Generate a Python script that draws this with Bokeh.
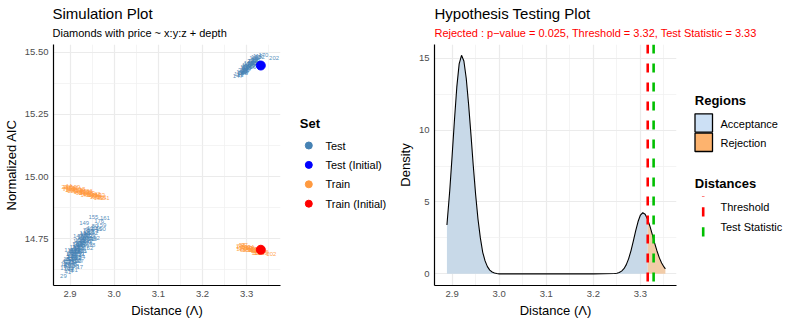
import numpy as np
from bokeh.plotting import figure
from bokeh.models import Range1d, FixedTicker, Span, PrintfTickFormatter
from bokeh.layouts import row, column
from bokeh.embed import file_html
from bokeh.resources import INLINE
from bokeh.core.properties import value

FONT = "Liberation Sans"

# ---------------- data: simulation plot ----------------
test_x = [2.886, 2.890, 2.893, 2.895, 2.898, 2.900, 2.902, 2.904, 2.906, 2.908, 2.910, 2.912,
          2.914, 2.916, 2.918, 2.920, 2.922, 2.924, 2.926, 2.928, 2.930, 2.932, 2.934, 2.936,
          2.938, 2.941, 2.943, 2.946, 2.950, 2.953, 2.957, 2.971, 2.953, 2.979, 2.966, 2.922,
          2.903, 2.885, 2.895, 2.910, 2.927, 2.945, 2.970, 2.918, 2.898, 2.932, 2.950, 2.960,
          2.889, 2.892, 2.896, 2.901, 2.905, 2.909, 2.913, 2.917, 2.921, 2.925, 2.929, 2.933,
          2.937, 2.940, 2.944, 2.948, 2.952, 2.956, 2.960, 2.935, 2.920, 2.907, 2.913, 2.925,
          2.940, 2.905, 2.909, 2.913, 2.917, 2.921, 2.915, 2.911, 2.919, 2.923, 2.927, 2.931,
          2.907, 2.903, 2.899, 2.925, 2.933, 2.939, 2.945, 2.897, 2.912,
          2.900, 2.904, 2.908, 2.912, 2.916, 2.920, 2.924, 2.928, 2.932, 2.936, 2.894, 2.897,
          2.902, 2.906, 2.918, 2.930, 2.942, 2.926, 2.915, 2.909,
          3.280, 3.282, 3.288, 3.290, 3.293, 3.295, 3.297, 3.299, 3.301, 3.303, 3.305, 3.307,
          3.309, 3.311, 3.313, 3.315, 3.317, 3.319, 3.321, 3.323, 3.325, 3.330, 3.338, 3.362,
          3.292, 3.298, 3.304, 3.310, 3.316, 3.300, 3.312, 3.320, 3.286, 3.296, 3.302, 3.308,
          3.314, 3.318, 3.290, 3.294, 3.300, 3.306, 3.312, 3.318, 3.304, 3.298, 3.288]
test_y = [14.648, 14.662, 14.641, 14.676, 14.655, 14.690, 14.630, 14.668, 14.702, 14.682, 14.716, 14.650,
          14.696, 14.730, 14.672, 14.710, 14.744, 14.690, 14.726, 14.756, 14.702, 14.740, 14.770, 14.718,
          14.752, 14.782, 14.732, 14.766, 14.795, 14.748, 14.780, 14.807, 14.837, 14.833, 14.820, 14.636,
          14.622, 14.602, 14.615, 14.626, 14.676, 14.712, 14.790, 14.760, 14.705, 14.812, 14.725, 14.755,
          14.632, 14.650, 14.668, 14.680, 14.695, 14.700, 14.718, 14.725, 14.735, 14.745, 14.760, 14.772,
          14.786, 14.760, 14.790, 14.750, 14.775, 14.800, 14.790, 14.700, 14.660, 14.645, 14.665, 14.700,
          14.740, 14.672, 14.690, 14.705, 14.696, 14.718, 14.682, 14.676, 14.712, 14.724, 14.730, 14.722,
          14.660, 14.656, 14.645, 14.712, 14.748, 14.764, 14.776, 14.630, 14.690,
          14.662, 14.678, 14.668, 14.700, 14.712, 14.698, 14.735, 14.742, 14.732, 14.758, 14.655, 14.668,
          14.690, 14.705, 14.740, 14.765, 14.748, 14.688, 14.660, 14.640,
          15.404, 15.412, 15.428, 15.420, 15.435, 15.420, 15.442, 15.430, 15.450, 15.438, 15.458, 15.445,
          15.463, 15.452, 15.470, 15.458, 15.476, 15.465, 15.482, 15.470, 15.486, 15.480, 15.487, 15.4775,
          15.415, 15.425, 15.432, 15.440, 15.448, 15.445, 15.460, 15.455, 15.410, 15.432, 15.442, 15.452,
          15.466, 15.458, 15.418, 15.425, 15.436, 15.448, 15.455, 15.472, 15.452, 15.440, 15.422]
test_lab = ["12", "45", "88", "3", "131", "64", "47", "22", "119", "76", "140", "8",
            "97", "181", "33", "150", "126", "59", "170", "102", "15", "93", "144", "67",
            "188", "137", "36", "109", "120", "35", "73", "159", "155", "161", "176", "17",
            "4", "29", "41", "61", "84", "52", "190", "143", "114", "149", "38", "92",
            "130", "24", "157", "50", "82", "193", "28", "106", "171", "55", "117", "186",
            "70", "133", "99", "21", "162", "80", "146", "1", "127", "63", "168", "44",
            "111", "135", "18", "172", "91", "26", "154", "66", "183", "47", "110", "9",
            "139", "75", "198", "31", "121", "57", "165", "104", "86",
            "7", "145", "34", "178", "53", "96", "128", "19", "167", "81", "115", "62",
            "189", "43", "152", "27", "134", "71", "100", "158",
            "147", "118", "35", "42", "10", "83", "124", "56", "192", "25", "108", "141",
            "74", "160", "2", "95", "130", "49", "183", "68", "113", "152", "170", "202",
            "166", "19", "87", "136", "5", "177", "61", "101", "11", "39", "165", "78",
            "125", "15", "187", "48", "117", "6", "151", "89", "172", "30", "199"]

train_x = [2.888, 2.892, 2.895, 2.898, 2.901, 2.904, 2.907, 2.910, 2.913, 2.916, 2.919, 2.922,
           2.925, 2.928, 2.931, 2.934, 2.937, 2.940, 2.943, 2.946, 2.949, 2.952, 2.955, 2.958,
           2.961, 2.964, 2.968, 2.972, 2.978, 2.897, 2.912, 2.927, 2.944, 2.905, 2.920, 2.935,
           2.950, 2.965, 2.890, 2.900, 2.909, 2.918, 2.926, 2.933, 2.941, 2.948, 2.956, 2.962,
           3.284, 3.287, 3.290, 3.293, 3.296, 3.299, 3.302, 3.305, 3.308, 3.311, 3.314, 3.317,
           3.320, 3.323, 3.326, 3.329, 3.333, 3.337, 3.342, 3.356, 3.288, 3.295, 3.301, 3.309,
           3.316, 3.322, 3.330, 3.292, 3.298, 3.306, 3.312, 3.318, 3.326]
train_y = [14.957, 14.952, 14.960, 14.948, 14.955, 14.950, 14.956, 14.945, 14.951, 14.946, 14.940, 14.948,
           14.942, 14.936, 14.943, 14.937, 14.931, 14.939, 14.933, 14.927, 14.934, 14.928, 14.922, 14.929,
           14.924, 14.918, 14.925, 14.919, 14.915, 14.962, 14.957, 14.950, 14.941, 14.942, 14.935, 14.927,
           14.921, 14.914, 14.950, 14.945, 14.952, 14.944, 14.940, 14.934, 14.930, 14.926, 14.920, 14.925,
           14.722, 14.716, 14.724, 14.714, 14.719, 14.710, 14.715, 14.706, 14.712, 14.703, 14.708, 14.700,
           14.705, 14.697, 14.702, 14.694, 14.698, 14.692, 14.695, 14.690, 14.710, 14.726, 14.703, 14.718,
           14.711, 14.692, 14.704, 14.706, 14.716, 14.712, 14.706, 14.702, 14.694]
train_lab = ["23", "71", "105", "14", "186", "57", "132", "90", "6", "117", "163", "39",
             "148", "81", "11", "127", "66", "194", "27", "112", "53", "171", "98", "142",
             "30", "79", "133", "161", "151", "44", "199", "18", "86", "123", "62", "175",
             "9", "139", "77", "134", "2", "179", "48", "100", "156", "34", "122", "60",
             "20", "167", "58", "135", "91", "7", "153", "72", "116", "31", "189", "64",
             "128", "46", "174", "103", "13", "145", "80", "202", "121", "37", "158", "94",
             "26", "110", "182", "69", "142", "40", "169", "85", "134"]

init_x = [3.332, 3.332]
init_y = [15.4465, 14.706]
init_set = ["Test (Initial)", "Train (Initial)"]

set_labels = ["Test", "Test (Initial)", "Train", "Train (Initial)"]
set_colors = ["#4682B4", "#0000FF", "#FF9A40", "#FF0000"]

# ---------------- data: hypothesis testing plot ----------------
dens_x = [2.889, 2.895, 2.900, 2.905, 2.910, 2.915, 2.920, 2.925, 2.930, 2.935, 2.940, 2.945,
          2.950, 2.955, 2.960, 2.965, 2.970, 2.975, 2.980, 2.985, 2.990, 2.995, 3.000, 3.050,
          3.100, 3.150, 3.200, 3.245, 3.250, 3.255, 3.260, 3.265, 3.270, 3.275, 3.280, 3.285,
          3.290, 3.295, 3.300, 3.305, 3.310, 3.315, 3.320, 3.325, 3.330, 3.335, 3.340, 3.345,
          3.350, 3.353]
dens_y = [3.4, 5.8, 8.2, 10.7, 13.0, 14.6, 15.2, 14.8, 13.6, 11.8, 9.7, 7.5,
          5.5, 3.8, 2.5, 1.5, 0.9, 0.5, 0.26, 0.13, 0.06, 0.02, 0.0, 0.0,
          0.0, 0.0, 0.0, 0.02, 0.04, 0.09, 0.19, 0.36, 0.64, 1.06, 1.62, 2.29,
          3.0, 3.64, 4.09, 4.25, 4.14, 3.81, 3.33, 2.76, 2.16, 1.61, 1.13, 0.75,
          0.48, 0.35]
threshold = 3.3155
test_statistic = 3.328
p_value = 0.025

region_labels = ["Acceptance", "Rejection"]
region_plot_colors = ["#C8D9E8", "#F2CCA8"]
region_key_colors = ["#CCE0F5", "#FDB36E"]
distance_labels = ["Threshold", "Test Statistic"]
distance_colors = ["#FF0000", "#00BF00"]

titles = ["Simulation Plot", "Hypothesis Testing Plot"]
subtitles = ["Diamonds with price ~ x:y:z + depth",
             "Rejected : p\u2212value = %.3f, Threshold = %.2f, Test Statistic = %.2f"
             % (p_value, threshold, test_statistic)]
subtitle_colors = ["black", "#FF0000"]

# ---------------- layout sizes ----------------
W = 793
TOP = 44          # title strip height (frames start right below)
H = 327 - TOP     # height of plot row
BOT = 42          # bottom border (x axis) of every figure in the row


def blank_fig(width, height, bottom=0):
    f = figure(width=width, height=height, x_range=Range1d(0, width),
               y_range=Range1d(height - bottom, 0),
               toolbar_location=None, output_backend="svg", title=None,
               x_axis_type=None, y_axis_type=None, min_border=0, min_border_bottom=bottom)
    f.grid.visible = False
    f.outline_line_color = None
    return f


def style(p, xlabel, ylabel, yticks, yminor, yfmt):
    p.xaxis.axis_label = xlabel
    p.yaxis.axis_label = ylabel
    p.xaxis.ticker = FixedTicker(ticks=[2.9, 3.0, 3.1, 3.2, 3.3],
                                 minor_ticks=[2.95, 3.05, 3.15, 3.25, 3.35])
    p.yaxis.ticker = FixedTicker(ticks=yticks, minor_ticks=yminor)
    p.yaxis.formatter = PrintfTickFormatter(format=yfmt)
    p.xaxis.formatter = PrintfTickFormatter(format="%.1f")
    for ax in (p.xaxis[0], p.yaxis[0]):
        ax.axis_line_color = "black"
        ax.axis_line_width = 1.2
        ax.major_tick_line_color = None
        ax.minor_tick_line_color = None
        ax.major_tick_out = 0
        ax.major_tick_in = 0
        ax.minor_tick_out = 0
        ax.minor_tick_in = 0
        ax.major_label_standoff = 5
        ax.axis_label_standoff = 3
        ax.major_label_text_font = FONT
        ax.major_label_text_font_size = "9.5px"
        ax.major_label_text_color = "#4D4D4D"
        ax.axis_label_text_font = FONT
        ax.axis_label_text_font_size = "13px"
        ax.axis_label_text_font_style = "normal"
        ax.axis_label_text_color = "black"
    for g in (p.xgrid[0], p.ygrid[0]):
        g.grid_line_color = "#EBEBEB"
        g.grid_line_width = 1.2
        g.minor_grid_line_color = "#EFEFEF"
        g.minor_grid_line_width = 0.7
    p.outline_line_color = None


# ---------------- title strip ----------------
top = blank_fig(W, TOP)
title_x = [52, 434]
top.text(x=title_x, y=[12.5, 12.5], text=titles, text_font=value(FONT),
         text_font_size=value("15px"), text_baseline="middle", text_color="black")
top.text(x=title_x, y=[32.2, 32.2], text=subtitles, text_font=value(FONT),
         text_font_size=value("11px"), text_baseline="middle", text_color=subtitle_colors)

# ---------------- left plot ----------------
p1 = figure(width=288, height=H, x_range=Range1d(2.8626, 3.3766), y_range=Range1d(14.5623, 15.531),
            toolbar_location=None, output_backend="svg", title=None,
            min_border_left=52, min_border_right=8, min_border_top=0, min_border_bottom=BOT)
style(p1, "Distance (Λ)", "Normalized AIC", [14.75, 15.0, 15.25, 15.5],
      [14.625, 14.875, 15.125, 15.375], "%.2f")

p1.text(x=train_x, y=train_y, text=train_lab, text_color=set_colors[2], text_alpha=0.9,
        text_font=value(FONT), text_font_size=value("6px"), text_align="center",
        text_baseline="middle")
p1.text(x=test_x, y=test_y, text=test_lab, text_color=set_colors[0], text_alpha=0.9,
        text_font=value(FONT), text_font_size=value("6px"), text_align="center",
        text_baseline="middle")
p1.scatter(x=init_x, y=init_y, size=9,
           color=[set_colors[set_labels.index(s)] for s in init_set])

# ---------------- left legend (local coords: px from frame top-left) ----------------
l1 = blank_fig(102, H, BOT)
l1.text(x=[11.3], y=[78.7], text=["Set"], text_font=value(FONT), text_font_size=value("13px"),
        text_font_style="bold", text_baseline="middle", text_color="black")
ly = [101 + 19.4 * i for i in range(len(set_labels))]
l1.scatter(x=[20.3] * len(set_labels), y=ly, size=7, color=set_colors)
l1.text(x=[37] * len(set_labels), y=ly, text=set_labels, text_font=value(FONT),
        text_font_size=value("11px"), text_baseline="middle", text_color="black")

# ---------------- right plot ----------------
p2 = figure(width=288, height=H, x_range=Range1d(2.8626, 3.3766), y_range=Range1d(-0.81, 15.95),
            toolbar_location=None, output_backend="svg", title=None,
            min_border_left=44, min_border_right=2, min_border_top=0, min_border_bottom=BOT)
style(p2, "Distance (Λ)", "Density", [0, 5, 10, 15], [2.5, 7.5, 12.5], "%d")

dx = np.array(dens_x)
dy = np.array(dens_y)
y_thr = float(np.interp(threshold, dx, dy))
acc_x = list(dx[dx < threshold]) + [threshold]
acc_y = list(dy[dx < threshold]) + [y_thr]
rej_x = [threshold] + list(dx[dx > threshold])
rej_y = [y_thr] + list(dy[dx > threshold])
p2.varea(x=acc_x, y1=[0] * len(acc_x), y2=acc_y, fill_color=region_plot_colors[0])
p2.varea(x=rej_x, y1=[0] * len(rej_x), y2=rej_y, fill_color=region_plot_colors[1])
p2.line(x=dens_x, y=dens_y, line_color="black", line_width=1.1)
for loc, col in zip([threshold, test_statistic], distance_colors):
    p2.add_layout(Span(location=loc, dimension="height", line_color=col, line_width=2.6,
                       line_dash="9 10"))

# ---------------- right legend ----------------
l2 = blank_fig(115, H, BOT)
l2.text(x=[16.3], y=[56], text=["Regions"], text_font=value(FONT),
        text_font_size=value("13px"), text_font_style="bold", text_baseline="middle",
        text_color="black")
bt = [69.3 + 19.4 * i for i in range(2)]
l2.quad(left=[16.5] * 2, right=[34] * 2, top=bt, bottom=[b + 18.3 for b in bt],
        fill_color=region_key_colors, line_color="black", line_width=1.3)
l2.text(x=[42] * 2, y=[b + 10 for b in bt], text=region_labels, text_font=value(FONT),
        text_font_size=value("11px"), text_baseline="middle", text_color="black")
l2.text(x=[16.3], y=[139.3], text=["Distances"], text_font=value(FONT),
        text_font_size=value("13px"), text_font_style="bold", text_baseline="middle",
        text_color="black")
dyl = [162.7 + 20 * i for i in range(2)]
l2.segment(x0=[24.7] * 2, x1=[24.7] * 2, y0=dyl, y1=[d + 9.3 for d in dyl],
           line_color=distance_colors, line_width=2.6)
l2.segment(x0=[24.7], x1=[24.7], y0=[151.5], y1=[152.5],
           line_color=distance_colors[0], line_width=2.6, line_alpha=0.5)
l2.text(x=[42] * 2, y=dyl, text=distance_labels, text_font=value(FONT),
        text_font_size=value("11px"), text_baseline="middle", text_color="black")

layout = column(top, row(p1, l1, p2, l2))
open("out.html", "w").write(file_html(layout, INLINE))
